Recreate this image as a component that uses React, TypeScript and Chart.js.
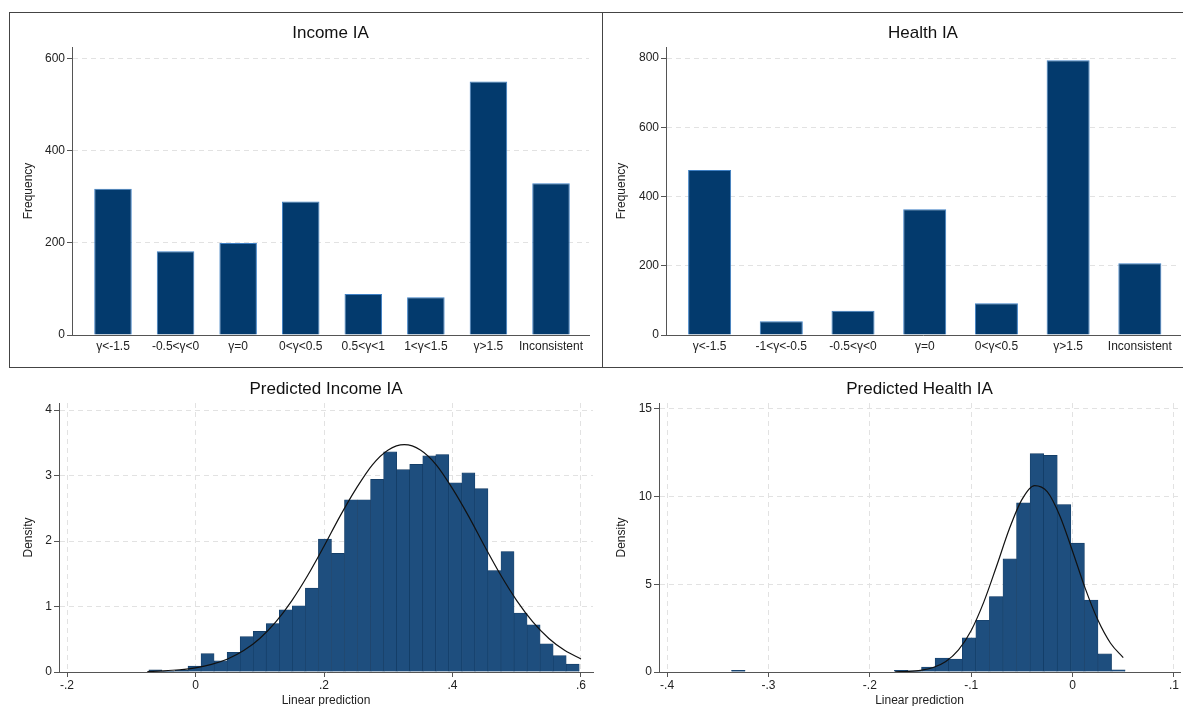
import React, { useEffect, useRef } from "react";
import { Chart, registerables } from "chart.js";

Chart.register(...registerables);

const FONT = "'Liberation Sans', Arial, Helvetica, sans-serif";
Chart.defaults.font.family = FONT;

// ---------- Top-left: Income IA ----------
const incomeCategories = ["γ<-1.5", "-0.5<γ<0", "γ=0", "0<γ<0.5", "0.5<γ<1", "1<γ<1.5", "γ>1.5", "Inconsistent"];
const incomeFrequency = [318, 182, 200, 290, 89, 82, 551, 330];
const incomeFreqTicks = [0, 200, 400, 600];

// ---------- Top-right: Health IA ----------
const healthCategories = ["γ<-1.5", "-1<γ<-0.5", "-0.5<γ<0", "γ=0", "0<γ<0.5", "γ>1.5", "Inconsistent"];
const healthFrequency = [477, 40, 70, 363, 92, 794, 207];
const healthFreqTicks = [0, 200, 400, 600, 800];

// ---------- Bottom-left: Predicted Income IA ----------
const incomeBinStart = -0.0726;
const incomeBinWidth = 0.0203;
const incomeDensity = [
  0.035, 0.012, 0.025, 0.09, 0.28, 0.17, 0.3, 0.54, 0.62, 0.74, 0.95, 1.01, 1.28, 2.03, 1.81, 2.63, 2.63,
  2.94, 3.36, 3.09, 3.17, 3.3, 3.32, 2.89, 3.04, 2.8, 1.55, 1.84, 0.9, 0.72, 0.43, 0.25, 0.12,
];
const incomeCurveX = [
  -0.075, -0.05, -0.025, 0, 0.025, 0.05, 0.075, 0.1, 0.125, 0.15, 0.175, 0.2, 0.225, 0.25, 0.275, 0.3,
  0.325, 0.35, 0.375, 0.4, 0.425, 0.45, 0.475, 0.5, 0.525, 0.55, 0.575, 0.6,
];
const incomeCurveY = [
  0.008, 0.017, 0.034, 0.064, 0.116, 0.199, 0.327, 0.512, 0.765, 1.09, 1.48, 1.92, 2.38, 2.8, 3.16, 3.39,
  3.47, 3.39, 3.16, 2.8, 2.38, 1.92, 1.48, 1.09, 0.765, 0.512, 0.327, 0.199,
];
const incomeDensityTicks = [0, 1, 2, 3, 4];
const incomeXTicks = [-0.2, 0, 0.2, 0.4, 0.6];
const incomeXTickLabels = ["-.2", "0", ".2", ".4", ".6"];

// ---------- Bottom-right: Predicted Health IA ----------
const healthBinStart = -0.39;
const healthBinWidth = 0.01339;
const healthDensity = [
  0, 0, 0, 0, 0.1, 0, 0, 0, 0, 0, 0, 0, 0, 0, 0, 0, 0.1, 0.07, 0.28, 0.8, 0.74, 1.95, 2.95, 4.3, 6.45,
  9.65, 12.45, 12.35, 9.55, 7.35, 4.1, 1.03, 0.13,
];
const healthCurveX = [
  -0.175, -0.1625, -0.15, -0.1375, -0.125, -0.1125, -0.1, -0.0875, -0.075, -0.0625, -0.05, -0.0375,
  -0.025, -0.0125, 0, 0.0125, 0.025, 0.0375, 0.05,
];
const healthCurveY = [
  0.01, 0.033, 0.096, 0.254, 0.598, 1.26, 2.37, 4.0, 6.03, 8.14, 9.83, 10.63, 10.28, 8.9, 6.89, 4.77, 2.96,
  1.64, 0.82,
];
const healthDensityTicks = [0, 5, 10, 15];
const healthXTicks = [-0.4, -0.3, -0.2, -0.1, 0, 0.1];
const healthXTickLabels = ["-.4", "-.3", "-.2", "-.1", "0", ".1"];

const AXIS = "#555555";
const GRID = "#e2e2e2";
const TEXT = "#222222";

const hideZero = (ctx: any) => (ctx.tick && ctx.tick.value === 0 ? "rgba(0,0,0,0)" : GRID);

interface Geo {
  yW: number;
  xH: number;
  padR: number;
  titleTop: number;
  titleBottom: number;
  yTitlePad: number;
}

function yScale(ticks: number[], max: number, label: string, g: Geo) {
  return {
    type: "linear",
    min: 0,
    max,
    afterBuildTicks: (s: any) => {
      s.ticks = ticks.map((v) => ({ value: v }));
    },
    afterFit: (s: any) => {
      s.width = g.yW;
    },
    ticks: { font: { size: 12, family: FONT }, color: TEXT, padding: 2 },
    grid: { color: hideZero, tickColor: AXIS, tickLength: 5, lineWidth: 1, offset: false },
    border: { color: AXIS, width: 1, dash: [5, 4] },
    title: {
      display: true,
      text: label,
      font: { size: 12, family: FONT },
      color: TEXT,
      padding: { top: g.yTitlePad, bottom: 0 },
    },
  };
}

function titleOpts(text: string, g: Geo) {
  return {
    display: true,
    text,
    fullSize: false,
    font: { size: 17, weight: "normal", family: FONT },
    color: "#111111",
    padding: { top: g.titleTop, bottom: g.titleBottom },
  };
}

function catConfig(
  cats: string[],
  vals: number[],
  yTicks: number[],
  yMax: number,
  xMin: number,
  xMax: number,
  title: string,
  g: Geo
): any {
  return {
    type: "bar",
    data: {
      datasets: [
        {
          data: cats.map((_, i) => ({ x: i, y: vals[i] })),
          backgroundColor: "#033a6d",
          borderColor: "#3f80c4",
          borderWidth: 1,
          barPercentage: 0.6,
          categoryPercentage: 1,
        },
      ],
    },
    options: {
      responsive: false,
      animation: false,
      devicePixelRatio: 1,
      layout: { padding: { left: 0, right: g.padR, top: 0, bottom: 0 } },
      plugins: { legend: { display: false }, tooltip: { enabled: false }, title: titleOpts(title, g) },
      scales: {
        x: {
          type: "linear",
          min: xMin,
          max: xMax,
          offset: false,
          afterBuildTicks: (s: any) => {
            s.ticks = cats.map((_, i) => ({ value: i }));
          },
          afterFit: (s: any) => {
            s.height = g.xH;
          },
          ticks: {
            autoSkip: false,
            maxRotation: 0,
            padding: 4,
            font: { size: 12, family: FONT },
            color: TEXT,
            callback: (_v: any, i: number) => cats[i],
          },
          grid: { drawOnChartArea: false, drawTicks: false, offset: false },
          border: { color: AXIS, width: 1 },
        },
        y: yScale(yTicks, yMax, "Frequency", g),
      },
    },
  };
}

function histConfig(
  binStart: number,
  binWidth: number,
  dens: number[],
  cx: number[],
  cy: number[],
  yTicks: number[],
  yMax: number,
  xTicks: number[],
  xLabels: string[],
  xMin: number,
  xMax: number,
  title: string,
  g: Geo
): any {
  return {
    type: "bar",
    data: {
      datasets: [
        {
          type: "line",
          order: 0,
          data: cx.map((x, i) => ({ x, y: cy[i] })),
          borderColor: "#111111",
          borderWidth: 1.2,
          pointRadius: 0,
          fill: false,
          cubicInterpolationMode: "monotone",
        },
        {
          type: "bar",
          order: 1,
          data: dens.map((d, i) => ({ x: binStart + (i + 0.5) * binWidth, y: d })),
          backgroundColor: "#1e4e7e",
          borderColor: "#123a62",
          borderWidth: 0.6,
          barPercentage: 1,
          categoryPercentage: 1,
        },
      ],
    },
    options: {
      responsive: false,
      animation: false,
      devicePixelRatio: 1,
      layout: { padding: { left: 0, right: g.padR, top: 0, bottom: 0 } },
      plugins: { legend: { display: false }, tooltip: { enabled: false }, title: titleOpts(title, g) },
      scales: {
        x: {
          type: "linear",
          min: xMin,
          max: xMax,
          offset: false,
          afterBuildTicks: (s: any) => {
            s.ticks = xTicks.map((v) => ({ value: v }));
          },
          afterFit: (s: any) => {
            s.height = g.xH;
          },
          ticks: {
            autoSkip: false,
            maxRotation: 0,
            padding: 1,
            font: { size: 12, family: FONT },
            color: TEXT,
            callback: (_v: any, i: number) => xLabels[i],
          },
          grid: { color: GRID, tickColor: AXIS, tickLength: 5, lineWidth: 1, offset: false },
          border: { color: AXIS, width: 1, dash: [5, 4] },
          title: {
            display: true,
            text: "Linear prediction",
            font: { size: 12, family: FONT },
            color: TEXT,
            padding: { top: 0, bottom: 1.8 },
          },
        },
        y: yScale(yTicks, yMax, "Density", g),
      },
    },
  };
}

function ChartCanvas(props: { left: number; top: number; width: number; height: number; make: () => any }) {
  const ref = useRef<HTMLCanvasElement>(null);
  useEffect(() => {
    const chart = new Chart(ref.current as HTMLCanvasElement, props.make());
    return () => chart.destroy();
  }, []);
  return (
    <canvas
      ref={ref}
      width={props.width}
      height={props.height}
      style={{ position: "absolute", left: props.left, top: props.top, width: props.width, height: props.height }}
    />
  );
}

const topLeftGeo: Geo = { yW: 62, xH: 31, padR: 12, titleTop: 10, titleBottom: 3.6, yTitlePad: 11.8 };
const topRightGeo: Geo = { yW: 63, xH: 31, padR: 3, titleTop: 10, titleBottom: 3.6, yTitlePad: 11.8 };
const botLeftGeo: Geo = { yW: 59, xH: 38, padR: 7, titleTop: 8.8, titleBottom: 3.8, yTitlePad: 21.8 };
const botRightGeo: Geo = { yW: 59, xH: 38, padR: 3, titleTop: 8.8, titleBottom: 3.8, yTitlePad: 14.3 };

export default function App() {
  return (
    <div
      style={{
        position: "fixed",
        left: 0,
        top: 0,
        width: 1183,
        height: 706,
        overflow: "hidden",
        background: "#ffffff",
      }}
    >
      <div
        style={{
          position: "absolute",
          left: 9,
          top: 12,
          width: 594,
          height: 356,
          border: "1px solid #444",
          boxSizing: "border-box",
        }}
      />
      <div
        style={{
          position: "absolute",
          left: 602,
          top: 12,
          width: 600,
          height: 356,
          border: "1px solid #444",
          boxSizing: "border-box",
        }}
      />
      <ChartCanvas
        left={10}
        top={13}
        width={591}
        height={353}
        make={() =>
          catConfig(incomeCategories, incomeFrequency, incomeFreqTicks, 626, -0.655, 7.607, "Income IA", topLeftGeo)
        }
      />
      <ChartCanvas
        left={603}
        top={13}
        width={580}
        height={353}
        make={() =>
          catConfig(healthCategories, healthFrequency, healthFreqTicks, 832, -0.608, 6.56, "Health IA", topRightGeo)
        }
      />
      <ChartCanvas
        left={0}
        top={370}
        width={600}
        height={340}
        make={() =>
          histConfig(
            incomeBinStart,
            incomeBinWidth,
            incomeDensity,
            incomeCurveX,
            incomeCurveY,
            incomeDensityTicks,
            4.107,
            incomeXTicks,
            incomeXTickLabels,
            -0.2125,
            0.6187,
            "Predicted Income IA",
            botLeftGeo
          )
        }
      />
      <ChartCanvas
        left={600}
        top={370}
        width={583}
        height={340}
        make={() =>
          histConfig(
            healthBinStart,
            healthBinWidth,
            healthDensity,
            healthCurveX,
            healthCurveY,
            healthDensityTicks,
            15.34,
            healthXTicks,
            healthXTickLabels,
            -0.408,
            0.106,
            "Predicted Health IA",
            botRightGeo
          )
        }
      />
    </div>
  );
}
